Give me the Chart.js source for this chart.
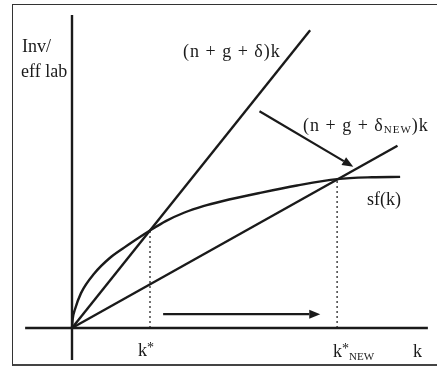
<!DOCTYPE html>
<html>
<head>
<meta charset="utf-8">
<script src="https://cdn.jsdelivr.net/npm/chart.js@4"></script>
<style>
  html, body { margin: 0; padding: 0; background: #fff; }
  #wrap { position: relative; width: 437px; height: 377px; }
  #frame {
    position: absolute; left: 12px; top: 4px; width: 430px; height: 359px;
    border-left: 1.5px solid #333; border-top: 1.5px solid #333; border-bottom: 2px solid #444;
    pointer-events: none;
  }
  canvas { position: absolute; left: 0; top: 0; }
</style>
</head>
<body>
<div id="wrap">
  <canvas id="c" width="437" height="377"></canvas>
  <div id="frame"></div>
</div>
<script>
// Solow model: saving curve sf(k) against two break-even investment lines.
const kGrid    = [0, 0.02, 0.08, 0.24, 0.6, 1.0, 1.4, 1.8, 2.08, 2.5, 3.0, 3.5, 4.0, 5.0, 6.0, 7.07, 8.0, 8.75];
const sfValues = [0, 0.25, 0.50, 0.93, 1.46, 1.86, 2.15, 2.42, 2.60, 2.85, 3.08, 3.25, 3.38, 3.60, 3.80, 3.97, 4.02, 4.03];

// break-even lines (n + g + delta)k, old and new depreciation
const breakEvenK      = [0, 6.35];
const breakEvenY      = [0, 7.94];
const breakEvenNewK   = [0, 8.68];
const breakEvenNewY   = [0, 4.86];

// steady states
const kStar    = 2.08;
const kStarNew = 7.07;
const steadyY    = 2.60;
const steadyNewY = 3.96;

// axis extents
const xAxisK = [-1.25, 9.49];
const yAxisV = [-0.85, 8.35];

const pts = (xs, ys) => xs.map((x, i) => ({ x: x, y: ys[i] }));

const ink = '#1a1a1a';
const solid = (data) => ({
  data, showLine: true, pointRadius: 0, borderColor: ink, borderWidth: 2.4, fill: false
});

const datasets = [
  solid(pts([0, 0], yAxisV)),
  solid(pts(xAxisK, [0, 0])),
  Object.assign(solid(pts(kGrid, sfValues)), { cubicInterpolationMode: 'monotone' }),
  solid(pts(breakEvenK, breakEvenY)),
  solid(pts(breakEvenNewK, breakEvenNewY)),
  Object.assign(solid(pts([kStar, kStar], [0, steadyY])), { borderWidth: 1.5, borderDash: [2, 3], borderColor: '#444' }),
  Object.assign(solid(pts([kStarNew, kStarNew], [0, steadyNewY])), { borderWidth: 1.5, borderDash: [2, 3], borderColor: '#444' })
];

// annotation arrows in data units
const arrows = [
  { from: [5.0, 5.78], to: [7.5, 4.3] },
  { from: [2.43, 0.37], to: [6.62, 0.37] }
];

const SERIF = '"Liberation Serif", "DejaVu Serif", serif';

const annotate = {
  id: 'annotate',
  afterDatasetsDraw(chart) {
    const ctx = chart.ctx;
    const xs = chart.scales.x, ys = chart.scales.y;
    const px = (k) => xs.getPixelForValue(k);
    const py = (v) => ys.getPixelForValue(v);
    ctx.save();
    ctx.fillStyle = ink;
    ctx.strokeStyle = ink;

    // arrows
    arrows.forEach(a => {
      const x1 = px(a.from[0]), y1 = py(a.from[1]);
      const x2 = px(a.to[0]),   y2 = py(a.to[1]);
      const ang = Math.atan2(y2 - y1, x2 - x1);
      const head = 11, half = 4.5;
      const bx = x2 - head * Math.cos(ang), by = y2 - head * Math.sin(ang);
      ctx.lineWidth = 2.2;
      ctx.beginPath(); ctx.moveTo(x1, y1); ctx.lineTo(bx, by); ctx.stroke();
      ctx.beginPath();
      ctx.moveTo(x2, y2);
      ctx.lineTo(bx + half * Math.sin(ang), by - half * Math.cos(ang));
      ctx.lineTo(bx - half * Math.sin(ang), by + half * Math.cos(ang));
      ctx.closePath(); ctx.fill();
    });

    // text runs: [text, sizePx, baselineShift]
    const run = (x, y, parts) => {
      let cx = x;
      parts.forEach(p => {
        ctx.font = p[1] + 'px ' + SERIF;
        ctx.fillText(p[0], cx, y + (p[2] || 0));
        cx += ctx.measureText(p[0]).width;
      });
    };
    ctx.textBaseline = 'alphabetic';
    ctx.textAlign = 'left';
    ctx.letterSpacing = '0px';

    run(22, 52, [['Inv/', 18]]);
    run(21, 77, [['eff lab', 18]]);
    ctx.letterSpacing = '1px';
    run(183, 57, [['(n + g + \u03b4)k', 18]]);
    run(303, 131, [['(n + g + \u03b4', 18], ['NEW', 11, 2], [')k', 18]]);
    ctx.letterSpacing = '0px';
    run(367, 205, [['sf(k)', 18]]);
    run(138, 356, [['k', 18], ['*', 14, -4]]);
    run(333, 357, [['k', 18], ['*', 14, -4], ['NEW', 11, 3]]);
    run(413, 357, [['k', 18]]);
    ctx.restore();
  }
};

new Chart(document.getElementById('c'), {
  type: 'scatter',
  data: { datasets },
  options: {
    responsive: false,
    animation: false,
    events: [],
    layout: { padding: 0 },
    plugins: { legend: { display: false }, tooltip: { enabled: false } },
    scales: {
      x: { type: 'linear', display: false, min: -72 / 37.5, max: 365 / 37.5 },
      y: { type: 'linear', display: false, min: -49 / 37.5, max: 328 / 37.5 }
    }
  },
  plugins: [annotate]
});
</script>
</body>
</html>
